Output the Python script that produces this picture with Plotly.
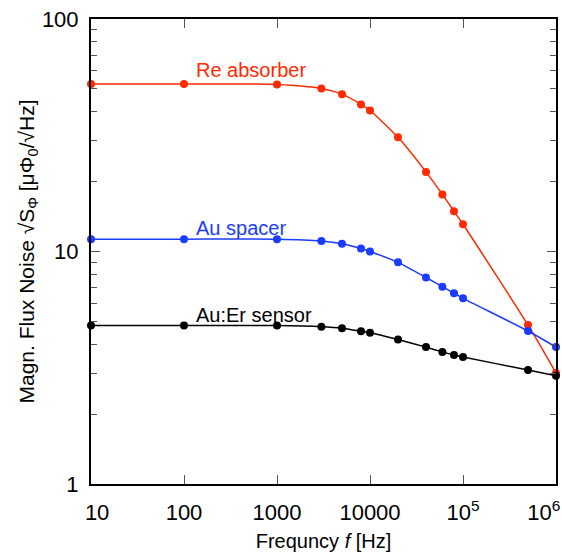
import plotly.graph_objects as go

freq = [10, 100, 1000, 3000, 5000, 8000, 10000, 20000, 40000, 60000, 80000, 100000, 500000, 1000000]
re_absorber = [52.5, 52.5, 52.3, 50.3, 47.5, 42.9, 40.4, 31.0, 22.0, 17.6, 14.9, 13.1, 4.83, 3.0]
au_spacer = [11.3, 11.3, 11.3, 11.1, 10.8, 10.3, 10.0, 8.98, 7.73, 7.06, 6.61, 6.29, 4.55, 3.88]
auer_sensor = [4.8, 4.8, 4.8, 4.75, 4.68, 4.54, 4.47, 4.18, 3.88, 3.70, 3.59, 3.52, 3.09, 2.92]

series_names = ["Re absorber", "Au spacer", "Au:Er sensor"]
series_colors = ["#ff2a00", "#1a3cff", "#000000"]
label_pos = [(2.11, 1.781), (2.11, 1.101), (2.11, 0.727)]

x_tickvals = [10, 100, 1000, 10000, 100000, 1000000]
x_ticktext = ["  10", "100", "1000", "10000", "10<sup>5</sup>", "10<sup>6</sup>&nbsp;&nbsp;&nbsp;&nbsp;"]
y_tickvals = [1, 10, 100]
y_ticktext = ["1", "10", "100"]

FONT = "Liberation Sans, Arial, Helvetica, sans-serif"

fig = go.Figure()
for name, vals, col in zip(series_names, [re_absorber, au_spacer, auer_sensor], series_colors):
    fig.add_trace(go.Scatter(
        x=freq, y=vals, mode="lines+markers", name=name,
        line=dict(color=col, width=1.5, shape="spline", smoothing=0.6),
        marker=dict(color=col, size=8),
        cliponaxis=False,
    ))

for name, col, (lx, ly) in zip(series_names, series_colors, label_pos):
    fig.add_annotation(x=lx, y=ly, xref="x", yref="y", text=name, showarrow=False,
                       xanchor="left", yanchor="middle",
                       font=dict(family=FONT, size=20, color=col))

fig.update_layout(
    width=562, height=556,
    margin=dict(l=91, r=6, t=19, b=72),
    paper_bgcolor="white", plot_bgcolor="white",
    showlegend=False,
    font=dict(family=FONT, size=22, color="black"),
)
fig.update_xaxes(
    type="log", range=[1, 6], automargin=False,
    tickvals=x_tickvals, ticktext=x_ticktext,
    ticks="inside", ticklen=9, tickwidth=1, tickcolor="#555555",
    showline=True, linecolor="black", linewidth=2, mirror="ticks",
    showgrid=False, zeroline=False,
    tickfont=dict(family=FONT, size=22, color="black"),
    ticklabelstandoff=8, ticklabeloverflow="allow",
    title=dict(text="Frequncy <i>f</i> [Hz]", font=dict(family=FONT, size=20, color="black"), standoff=10),
)
fig.update_yaxes(
    type="log", range=[0, 2], automargin=False,
    tickvals=y_tickvals, ticktext=y_ticktext,
    ticks="inside", ticklen=9, tickwidth=1, tickcolor="#555555",
    minor=dict(ticks="inside", ticklen=6, tickwidth=1, tickcolor="#555555",
               tickvals=[2, 3, 4, 5, 6, 7, 8, 9, 20, 30, 40, 50, 60, 70, 80, 90], showgrid=False),
    showline=True, linecolor="black", linewidth=2, mirror="ticks",
    showgrid=False, zeroline=False,
    tickfont=dict(family=FONT, size=22, color="black"),
    ticklabelstandoff=6, ticklabeloverflow="allow",
    title=dict(text="Magn. Flux Noise √S<sub>Φ</sub> [μΦ<sub>0</sub>/√Hz]",
               font=dict(family=FONT, size=21, color="black"), standoff=2),
)

fig.write_html("out.html")
